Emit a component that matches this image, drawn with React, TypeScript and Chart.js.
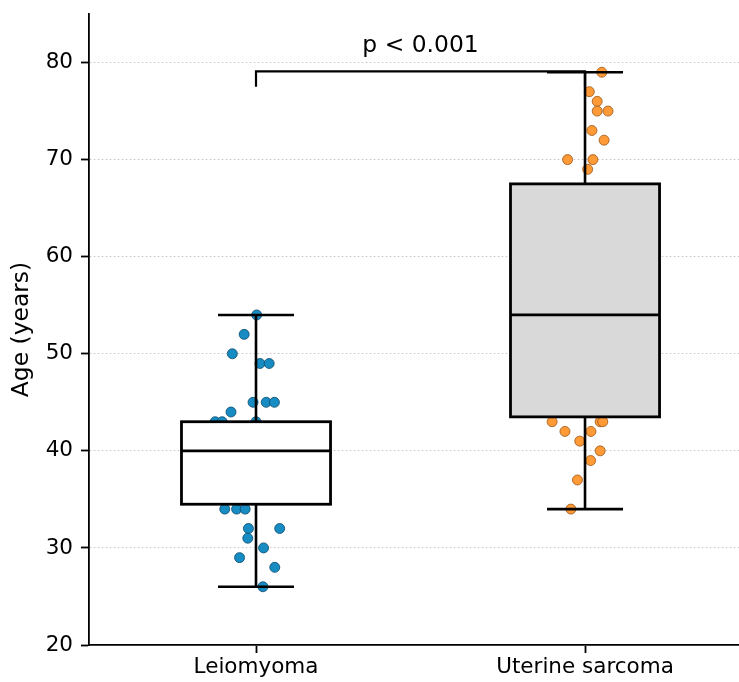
import React, { useEffect, useRef } from "react";
import { Chart, registerables } from "chart.js";

Chart.register(...registerables);

const categories = ["Leiomyoma", "Uterine sarcoma"];
const yTicks = [20, 30, 40, 50, 60, 70, 80];

// Box statistics per category
const boxQ1 = [34.5, 43.5];
const boxMedian = [40, 54];
const boxQ3 = [43, 67.5];
const whiskerLow = [26, 34];
const whiskerHigh = [54, 79];

// Individual observations (ages) and their horizontal jitter
const leioAges = [54, 52, 50, 49, 49, 45, 45, 45, 44, 43, 43, 43, 34, 34, 34, 32, 32, 31, 30, 29, 28, 26];
const leioJitter = [0.002, -0.036, -0.072, 0.012, 0.04, -0.009, 0.031, 0.056, -0.076, -0.124, -0.103, 0.0, -0.095, -0.059, -0.033, -0.023, 0.072, -0.025, 0.023, -0.05, 0.057, 0.021];
const sarcAges = [79, 77, 76, 75, 75, 73, 72, 70, 70, 69, 43, 43, 43, 42, 42, 41, 40, 39, 37, 34];
const sarcJitter = [0.051, 0.013, 0.037, 0.037, 0.07, 0.021, 0.058, -0.053, 0.024, 0.008, -0.1, 0.046, 0.054, -0.061, 0.018, -0.016, 0.046, 0.017, -0.023, -0.043];

const pLabel = "p < 0.001";
const bracketY = 79.1;
const bracketDrop = 77.5;

const FONT = "'DejaVu Sans', sans-serif";

const boxPlugin = {
  id: "boxes",
  afterDatasetsDraw(chart: any) {
    const { ctx } = chart;
    const xs = chart.scales.x;
    const ys = chart.scales.y;
    const boxHalf = 0.2265;
    const capHalf = 0.1155;
    const fills = ["#ffffff", "#d9d9d9"];
    ctx.save();
    ctx.strokeStyle = "#000000";
    ctx.lineCap = "butt";
    for (let i = 0; i < categories.length; i++) {
      const cx = xs.getPixelForValue(i);
      const l = xs.getPixelForValue(i - boxHalf);
      const r = xs.getPixelForValue(i + boxHalf);
      const cl = xs.getPixelForValue(i - capHalf);
      const cr = xs.getPixelForValue(i + capHalf);
      const yq1 = ys.getPixelForValue(boxQ1[i]);
      const yq3 = ys.getPixelForValue(boxQ3[i]);
      const ym = ys.getPixelForValue(boxMedian[i]);
      const ylo = ys.getPixelForValue(whiskerLow[i]);
      const yhi = ys.getPixelForValue(whiskerHigh[i]);
      ctx.lineWidth = 2.6;
      // whiskers
      ctx.beginPath();
      ctx.moveTo(cx, yq1);
      ctx.lineTo(cx, ylo);
      ctx.moveTo(cx, yq3);
      ctx.lineTo(cx, yhi);
      ctx.moveTo(cl, ylo);
      ctx.lineTo(cr, ylo);
      ctx.moveTo(cl, yhi);
      ctx.lineTo(cr, yhi);
      ctx.stroke();
      // box
      ctx.fillStyle = fills[i];
      ctx.fillRect(l, yq3, r - l, yq1 - yq3);
      ctx.lineWidth = 2.8;
      ctx.strokeRect(l, yq3, r - l, yq1 - yq3);
      // median
      ctx.beginPath();
      ctx.moveTo(l, ym);
      ctx.lineTo(r, ym);
      ctx.stroke();
    }
    // significance bracket
    const x0 = xs.getPixelForValue(0);
    const x1 = xs.getPixelForValue(1);
    const by = ys.getPixelForValue(bracketY);
    const bd = ys.getPixelForValue(bracketDrop);
    ctx.lineWidth = 2.2;
    ctx.beginPath();
    ctx.moveTo(x0, bd);
    ctx.lineTo(x0, by);
    ctx.lineTo(x1, by);
    ctx.lineTo(x1, bd);
    ctx.stroke();
    ctx.fillStyle = "#000000";
    ctx.font = `23.4px ${FONT}`;
    ctx.textAlign = "center";
    ctx.textBaseline = "alphabetic";
    ctx.fillText(pLabel, (x0 + x1) / 2, by - 19);
    ctx.restore();
  },
};

export default function App() {
  const ref = useRef<HTMLCanvasElement | null>(null);
  useEffect(() => {
    if (!ref.current) return;
    const chart = new Chart(ref.current, {
      type: "scatter",
      data: {
        datasets: [
          {
            label: categories[0],
            data: leioAges.map((a, i) => ({ x: 0 + leioJitter[i], y: a })),
            backgroundColor: "#178cc3",
            borderColor: "#0b4a6b",
            borderWidth: 0.8,
            pointRadius: 5,
          },
          {
            label: categories[1],
            data: sarcAges.map((a, i) => ({ x: 1 + sarcJitter[i], y: a })),
            backgroundColor: "#ff9a36",
            borderColor: "#9a5518",
            borderWidth: 0.8,
            pointRadius: 5,
          },
        ],
      },
      options: {
        animation: false,
        responsive: false,
        maintainAspectRatio: false,
        layout: { autoPadding: false, padding: { top: 14, left: 0, right: 0, bottom: 0 } },
        plugins: {
          legend: { display: false },
          tooltip: { enabled: false },
        },
        scales: {
          x: {
            type: "linear",
            min: -0.5076,
            max: 1.468,
            afterBuildTicks: (s: any) => {
              s.ticks = categories.map((_, i) => ({ value: i }));
            },
            afterFit: (s: any) => {
              s.height = 37;
              s.paddingLeft = 0;
              s.paddingRight = 0;
            },
            ticks: {
              callback: (v: any) => categories[Math.round(Number(v))] ?? "",
              color: "#000000",
              font: { family: FONT, size: 21.5 },
              padding: 2,
              maxRotation: 0,
              autoSkip: false,
            },
            grid: {
              drawOnChartArea: false,
              drawTicks: true,
              tickLength: 8,
              tickColor: "#000000",
              tickWidth: 1.8,
            },
            border: { display: true, color: "#000000", width: 1.8 },
          },
          y: {
            type: "linear",
            min: 20,
            max: 85,
            afterBuildTicks: (s: any) => {
              s.ticks = yTicks.map((v) => ({ value: v }));
            },
            afterFit: (s: any) => {
              s.width = 89;
              s.paddingTop = 0;
              s.paddingBottom = 0;
            },
            title: {
              display: true,
              text: "Age (years)",
              color: "#000000",
              font: { family: FONT, size: 23.4 },
              padding: { top: 8, bottom: 0 },
            },
            ticks: {
              color: "#000000",
              font: { family: FONT, size: 21.5 },
              padding: 8,
            },
            grid: {
              color: (c: any) => (c.tick && c.tick.value === 20 ? "rgba(0,0,0,0)" : "#c4c4c4"),
              lineWidth: 1,
              drawTicks: true,
              tickLength: 8,
              tickColor: "#000000",
              tickWidth: 1.8,
              tickBorderDash: [],
            },
            border: { display: true, color: "#000000", width: 1.8, dash: [1.5, 2.5] },
          },
        },
      },
      plugins: [boxPlugin],
    });
    return () => chart.destroy();
  }, []);
  return (
    <div style={{ position: "fixed", left: 0, top: 0, width: 739, height: 682, background: "#ffffff" }}>
      <canvas ref={ref} width={739} height={682} style={{ width: 739, height: 682 }} />
    </div>
  );
}
